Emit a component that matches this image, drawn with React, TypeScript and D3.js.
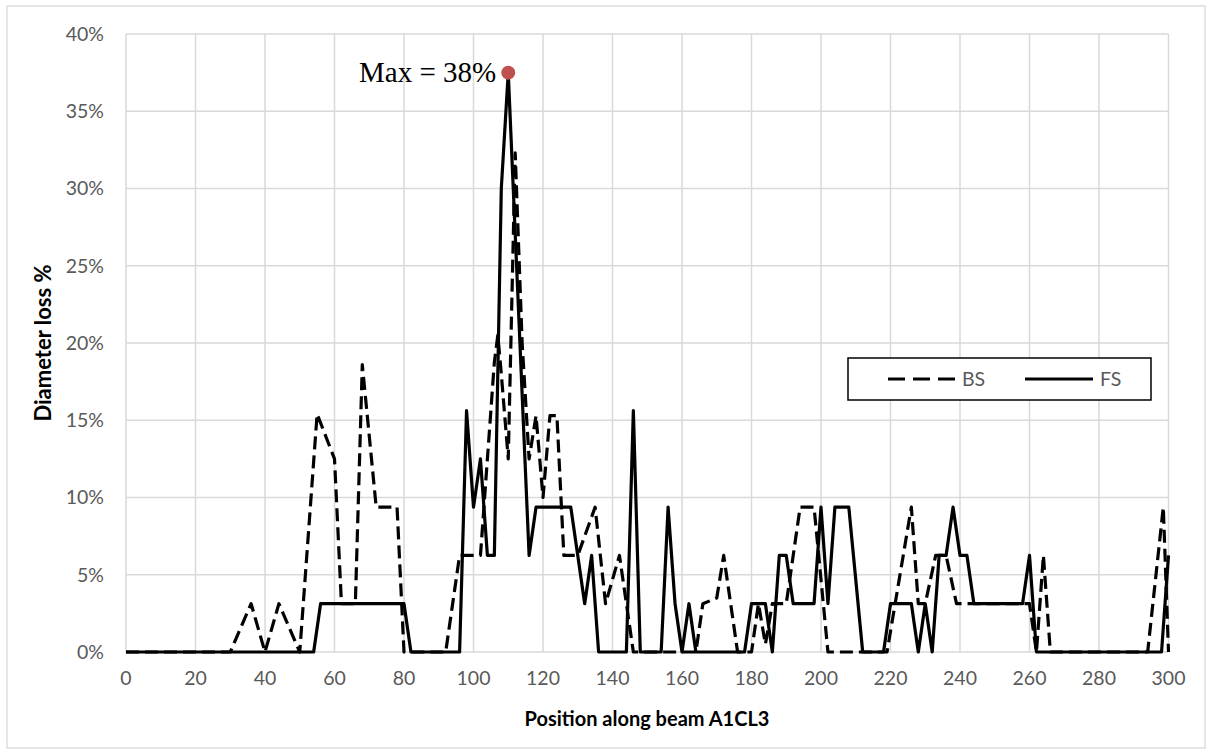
import React from 'react';
import * as d3 from 'd3';

// ---- data (percent diameter loss vs. position) ----
const bsPosition = [0, 30, 36, 40, 44, 50, 55, 60, 62, 66, 68, 72, 78, 80, 92, 96, 102, 104, 106, 107, 108, 110, 112, 114, 116, 118, 120, 122, 124, 126, 130, 135, 138, 142, 146, 164, 166, 170, 172, 176, 180, 182, 184, 186, 190, 194, 198, 202, 219, 226, 228, 230, 233, 236, 239, 258, 260, 262, 264, 266, 294, 298.5, 300];
const bsLoss = [0, 0, 3.125, 0, 3.125, 0, 15.4, 12.5, 3.125, 3.125, 18.6, 9.375, 9.375, 0, 0, 6.25, 6.25, 12.5, 18.75, 20.5, 18, 12.5, 32.3, 20, 12.5, 15.3, 10, 15.3, 15.3, 6.25, 6.25, 9.375, 3.125, 6.25, 0, 0, 3.125, 3.5, 6.25, 0, 0, 3.125, 0.5, 3.125, 3.125, 9.375, 9.375, 0, 0, 9.375, 3.125, 3.125, 6.25, 6.25, 3.125, 3.125, 3.125, 0, 6.25, 0, 0, 9.375, 0];

const fsPosition = [0, 54, 56, 80, 82, 96, 98, 100, 102, 104, 106, 108, 110, 116, 118, 128, 132, 134, 136, 144, 146, 148, 154, 156, 158, 160, 162, 164, 178, 180, 184, 186, 188, 190, 192, 198, 200, 202, 204, 208, 212, 218, 220, 226, 228, 230, 232, 234, 236, 238, 240, 242, 244, 258, 260, 262, 298, 300];
const fsLoss = [0, 0, 3.125, 3.125, 0, 0, 15.625, 9.375, 12.5, 6.25, 6.25, 30, 37.5, 6.25, 9.375, 9.375, 3.125, 6.25, 0, 0, 15.625, 0, 0, 9.375, 3.125, 0, 3.125, 0, 0, 3.125, 3.125, 0, 6.25, 6.25, 3.125, 3.125, 9.375, 3.125, 9.375, 9.375, 0, 0, 3.125, 3.125, 0, 3.125, 0, 6.25, 6.25, 9.375, 6.25, 6.25, 3.125, 3.125, 6.25, 0, 0, 6.25];

const xTickValues = [0, 20, 40, 60, 80, 100, 120, 140, 160, 180, 200, 220, 240, 260, 280, 300];
const yTickValues = [0, 5, 10, 15, 20, 25, 30, 35, 40];
const maxPosition = 110;
const maxLoss = 37.5;
const maxLabel = 'Max = 38%';
const seriesNames = ['BS', 'FS'];
const xTitle = 'Position along beam A1CL3';
const yTitle = 'Diameter loss %';

const W = 1212;
const H = 754;
const L = 126, R = 1168.5, T = 34, B = 652;
const FONT = 'Lato, "Open Sans", sans-serif';

export default function App() {
  const x = d3.scaleLinear().domain([0, 300]).range([L, R]);
  const y = d3.scaleLinear().domain([0, 40]).range([B, T]);
  const line = d3.line<[number, number]>().x(d => x(d[0])).y(d => y(d[1]));
  const bsPts = bsPosition.map((p, i) => [p, bsLoss[i]] as [number, number]);
  const fsPts = fsPosition.map((p, i) => [p, fsLoss[i]] as [number, number]);
  const grid = '#D9D9D9';
  const tickColor = '#595959';

  return (
    <div style={{ position: 'absolute', left: 0, top: 0 }}>
      <svg width={W} height={H} style={{ display: 'block', background: '#fff' }}>
        <rect x={7} y={6} width={1198} height={742} fill="#fff" stroke={grid} strokeWidth={1.3} />
        {/* gridlines */}
        {yTickValues.map(v => (
          <line key={'gy' + v} x1={L} x2={R} y1={y(v)} y2={y(v)} stroke={grid} strokeWidth={1.5} />
        ))}
        {xTickValues.map(v => (
          <line key={'gx' + v} x1={x(v)} x2={x(v)} y1={T} y2={B} stroke={grid} strokeWidth={1.5} />
        ))}
        {/* tick labels */}
        {yTickValues.map(v => (
          <text key={'ty' + v} x={104} y={y(v)} dy="0.35em" textAnchor="end" fontFamily={FONT} fontSize={19.5} fill={tickColor}>
            {v + '%'}
          </text>
        ))}
        {xTickValues.map(v => (
          <text key={'tx' + v} x={x(v)} y={678} dy="0.35em" textAnchor="middle" fontFamily={FONT} fontSize={19.5} fill={tickColor}>
            {v}
          </text>
        ))}
        {/* series */}
        <path d={line(bsPts) || ''} fill="none" stroke="#000" strokeWidth={3.2} strokeDasharray="13,6" strokeLinejoin="round" />
        <path d={line(fsPts) || ''} fill="none" stroke="#000" strokeWidth={3.2} strokeLinejoin="round" />
        {/* max marker */}
        <circle cx={x(maxPosition)} cy={y(maxLoss)} r={7} fill="#C0504D" />
        <text x={x(maxPosition) - 12} y={y(maxLoss)} dy="0.33em" textAnchor="end" fontFamily='"Liberation Serif", "Times New Roman", serif' fontSize={29} fill="#000">
          {maxLabel}
        </text>
        {/* axis titles */}
        <text x={647} y={719} dy="0.35em" textAnchor="middle" fontFamily={FONT} fontWeight="bold" fontSize={20} fill="#000">
          {xTitle}
        </text>
        <text transform={`translate(43,${(T + B) / 2}) rotate(-90)`} dy="0.35em" textAnchor="middle" fontFamily={FONT} fontWeight="bold" fontSize={22} fill="#000">
          {yTitle}
        </text>
        {/* legend */}
        <rect x={848} y={358} width={303} height={42} fill="#fff" stroke="#000" strokeWidth={1.5} />
        <line x1={888} x2={955} y1={379} y2={379} stroke="#000" strokeWidth={3.2} strokeDasharray="17,8" />
        <text x={962} y={379} dy="0.35em" fontFamily={FONT} fontSize={19.5} fill={tickColor}>{seriesNames[0]}</text>
        <line x1={1025} x2={1093} y1={379} y2={379} stroke="#000" strokeWidth={3.2} />
        <text x={1100} y={379} dy="0.35em" fontFamily={FONT} fontSize={19.5} fill={tickColor}>{seriesNames[1]}</text>
      </svg>
    </div>
  );
}
